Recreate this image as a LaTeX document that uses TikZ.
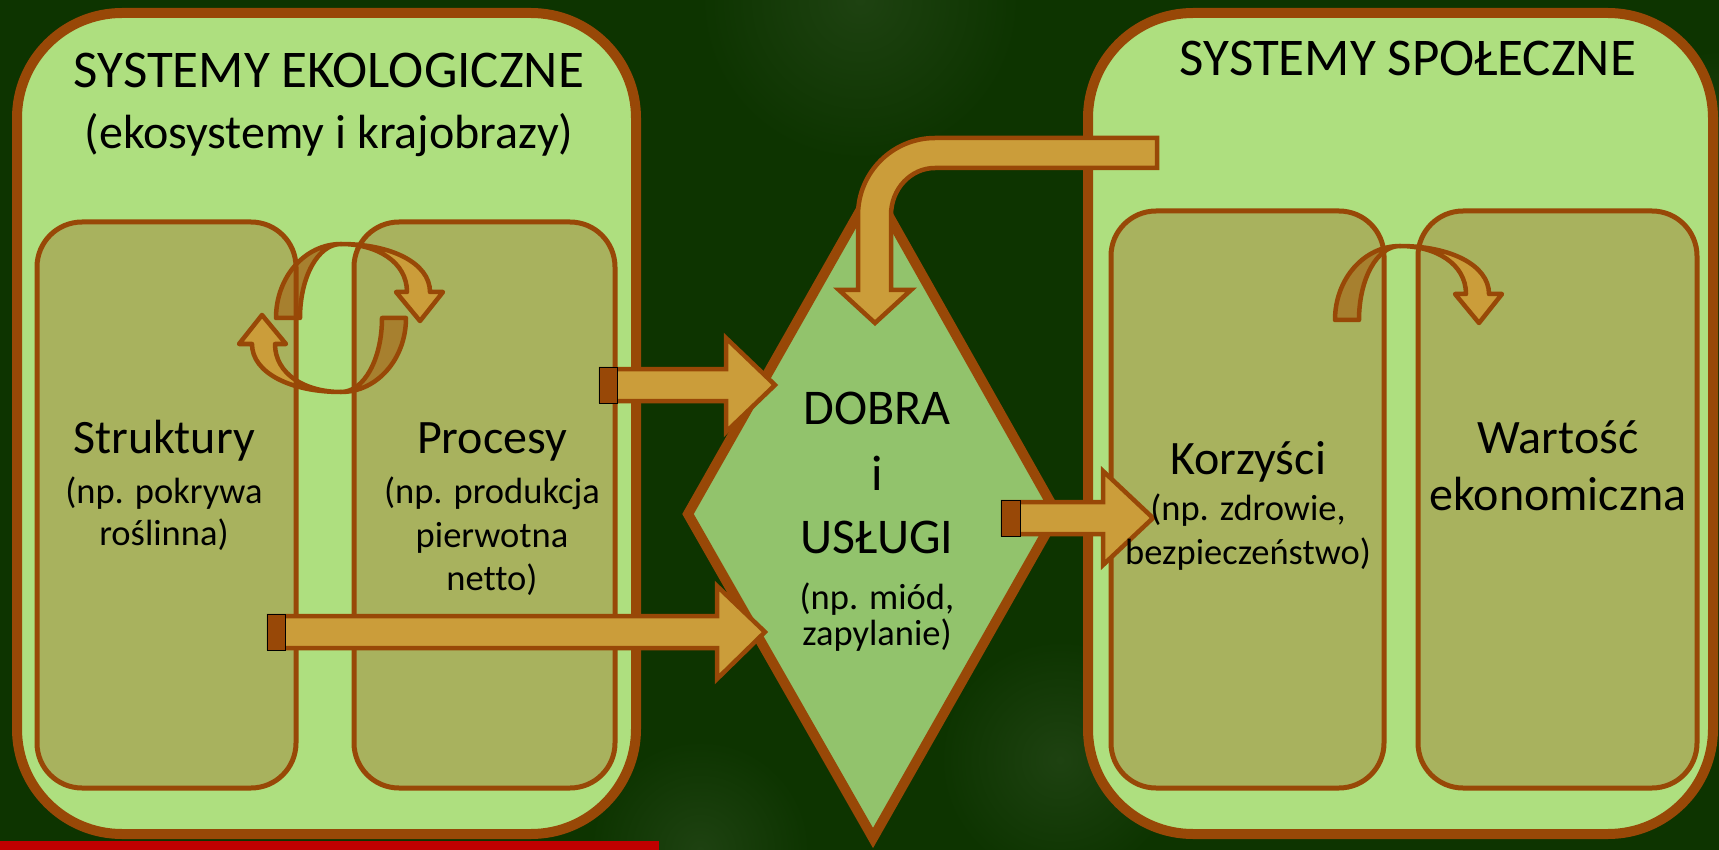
\documentclass[tikz,border=0pt]{standalone}
\usepackage{fontspec}
\setmainfont{Carlito}[Ligatures=NoCommon]
\definecolor{bg}{HTML}{0D3400}
\definecolor{glow}{HTML}{1E4211}
\definecolor{brn}{HTML}{984807}
\definecolor{boxg}{HTML}{AEDF7F}
\definecolor{innerg}{HTML}{A8B25E}
\definecolor{diag}{HTML}{92C36C}
\definecolor{gold}{HTML}{CB9D3A}
\definecolor{golddk}{HTML}{A7802F}
\definecolor{redbar}{HTML}{C00000}
\newcommand{\mycurvedarrow}{%
  \filldraw[curvedark] (-65,0) .. controls (-65,-41) and (-36,-74) .. (0,-74)
     .. controls (-23,-74) and (-41,-41) .. (-41,0) -- cycle;
  \filldraw[curvelight] (0,-74) .. controls (50,-74) and (89,-55) .. (89,-26)
     -- (102,-26) -- (79,3) -- (55,-26) -- (66,-26)
     .. controls (66,-56) and (36,-74) .. (0,-74) -- cycle;
}
\begin{document}
\begin{tikzpicture}[x=1pt,y=-1pt,
  bigbox/.style={draw=brn, line width=10pt, fill=boxg, rounded corners=105pt, inner sep=0pt, outer sep=0pt},
  innerfill/.style={fill=innerg, rounded corners=45pt, inner sep=0pt, outer sep=0pt},
  innerline/.style={draw=brn, line width=5pt, rounded corners=45pt},
  blockarrow/.style={draw=brn, line width=4.5pt, fill=gold, line join=miter},
  tailblock/.style={fill=brn},
  curvedark/.style={draw=brn, line width=4.5pt, fill=golddk, line join=round},
  curvelight/.style={draw=brn, line width=4.5pt, fill=gold, line join=round},
  ttl/.style={font=\fontsize{53}{63}\selectfont, anchor=base, inner sep=0pt},
  sub/.style={font=\fontsize{48}{58}\selectfont, anchor=base, inner sep=0pt},
  bigtxt/.style={font=\fontsize{48}{58}\selectfont, anchor=base, inner sep=0pt},
  dtxt/.style={font=\fontsize{50}{60}\selectfont, anchor=base, inner sep=0pt},
  smalltxt/.style={font=\fontsize{36.5}{44}\selectfont, anchor=base, inner sep=0pt}
]
\useasboundingbox (0,0) rectangle (1719,850);
% background
\fill[bg] (0,0) rectangle (1719,850);
\shade[inner color=glow, outer color=bg] (860,0) circle (160);
\shade[inner color=glow, outer color=bg] (1719,140) circle (90);
\shade[inner color=glow, outer color=bg] (1060,760) circle (120);
\shade[inner color=glow, outer color=bg] (700,850) circle (110);

% big boxes
\node[bigbox, minimum width=619pt, minimum height=821pt] (eco) at (326.5,423.5) {};
\node[bigbox, minimum width=625pt, minimum height=821pt] (spo) at (1400.5,423.5) {};

% inner boxes (fill)
\node[innerfill, minimum width=259pt, minimum height=566pt] (struk) at (166.5,505) {};
\node[innerfill, minimum width=261pt, minimum height=566pt] (proc) at (484.5,505) {};
\node[innerfill, minimum width=273pt, minimum height=577pt] (korz) at (1247.5,499.5) {};
\node[innerfill, minimum width=279pt, minimum height=577pt] (wart) at (1557.5,499.5) {};

% curved arrows
\begin{scope}[shift={(341,318)}] \mycurvedarrow \end{scope}
\begin{scope}[shift={(341,318)}, rotate=180] \mycurvedarrow \end{scope}
\begin{scope}[shift={(1400,320)}] \mycurvedarrow \end{scope}

% inner boxes (outline on top)
\draw[innerline] (struk.north west) rectangle (struk.south east);
\draw[innerline] (proc.north west) rectangle (proc.south east);
\draw[innerline] (korz.north west) rectangle (korz.south east);
\draw[innerline] (wart.north west) rectangle (wart.south east);

% diamond
\coordinate (dT) at (873,188);
\coordinate (dR) at (1057,514);
\coordinate (dB) at (873,838);
\coordinate (dL) at (688,514);
\draw[brn, line width=10pt, fill=diag, line join=miter] (dT) -- (dR) -- (dB) -- (dL) -- cycle;

% straight block arrows
% upper: Procesy -> DOBRA
\filldraw[blockarrow] (601,369) -- (726,369) -- (726,338) -- (775,385) -- (726,432) -- (726,401) -- (601,401) -- cycle;
\filldraw[tailblock] (599,367) rectangle (617,403);
% lower: Struktury -> DOBRA
\filldraw[blockarrow] (269,616) -- (717,616) -- (717,586) -- (765,632) -- (717,679) -- (717,648) -- (269,648) -- cycle;
\filldraw[tailblock] (267,614) rectangle (285,650);
% right: DOBRA -> Korzysci
\filldraw[blockarrow] (1003,502) -- (1103,502) -- (1103,471) -- (1153,518) -- (1103,565) -- (1103,534) -- (1003,534) -- cycle;
\filldraw[tailblock] (1001,500) rectangle (1020,536);

% bent arrow from social systems down into DOBRA
\filldraw[blockarrow] (1157,138) -- (935,138) .. controls (892.5,138) and (858,172.5) .. (858,215)
  -- (858,290) -- (839,290) -- (875,323) -- (911,290) -- (891,290) -- (891,215)
  .. controls (891,189) and (910.7,168) .. (935,168) -- (1157,168) -- cycle;

% red bar
\fill[redbar] (0,841) rectangle (659,850);

% texts
\node[ttl] (t1) at (329,88) {SYSTEMY EKOLOGICZNE};
\node[sub] (t1b) at (329,149) {(ekosystemy i krajobrazy)};
\node[ttl] (t2) at (1408,76) {SYSTEMY SPOŁECZNE};

\node[bigtxt] (s1) at (164,453) {Struktury};
\node[smalltxt] (s2) at (164,503) {(np. pokrywa};
\node[smalltxt] (s3) at (164,545) {roślinna)};

\node[bigtxt] (p1) at (492,453) {Procesy};
\node[smalltxt] (p2) at (492,503) {(np. produkcja};
\node[smalltxt] (p3) at (492,547) {pierwotna};
\node[smalltxt] (p4) at (492,590) {netto)};

\node[dtxt] (d1) at (877,424) {DOBRA};
\node[dtxt] (d2) at (877,490) {i};
\node[dtxt] (d3) at (877,553) {USŁUGI};
\node[smalltxt] (d4) at (877,609) {(np. miód,};
\node[smalltxt] (d5) at (877,645) {zapylanie)};

\node[bigtxt] (k1) at (1248,474) {Korzyści};
\node[smalltxt] (k2) at (1248,520) {(np. zdrowie,};
\node[smalltxt] (k3) at (1248,564) {bezpieczeństwo)};

\node[bigtxt] (w1) at (1558,453) {Wartość};
\node[bigtxt] (w2) at (1558,510) {ekonomiczna};
\end{tikzpicture}
\end{document}
